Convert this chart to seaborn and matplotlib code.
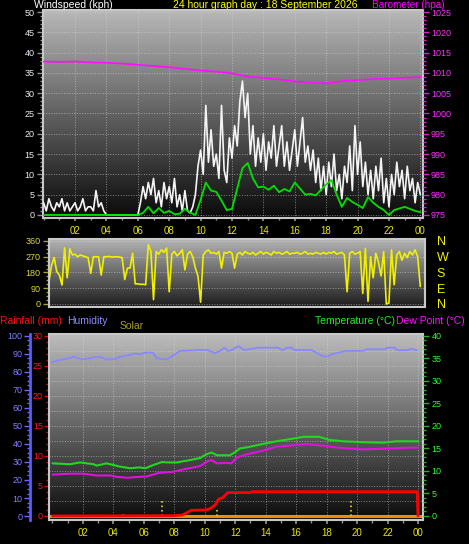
import numpy as np
import pandas as pd
import seaborn as sns
import matplotlib.pyplot as plt
from matplotlib.colors import LinearSegmentedColormap
from matplotlib.ticker import MultipleLocator

W, H = 469, 544

# wind gust (kph), one reading every 10 minutes from 00:00 to 24:00
gust_kph = [
    3, 1, 4, 2, 1, 3,
    2, 4, 1, 3, 1, 2,
    3, 1, 2, 4, 1, 2,
    2, 1, 6, 2, 3, 1,
    0, 0, 0, 0, 0, 0,
    0, 0, 0, 0, 0, 0,
    0, 3, 7, 4, 8, 5,
    9, 3, 6, 2, 8, 4,
    7, 3, 9, 2, 5, 1,
    6, 1, 0.5, 2, 5, 12,
    16, 10, 27, 13, 21, 12,
    15, 9, 27, 11, 8, 19,
    14, 22, 17, 28, 33, 24,
    30, 15, 22, 12, 19, 13,
    20, 11, 18, 14, 22, 12,
    17, 22, 12, 18, 11, 16,
    21, 12, 18, 24, 13, 17,
    11, 16, 8, 14, 6, 12,
    5, 13, 7, 15, 6, 10,
    4, 12, 8, 17, 6, 22,
    10, 18, 7, 13, 5, 11,
    4, 12, 6, 14, 3, 9,
    2, 10, 5, 13, 7, 11,
    4, 12, 6, 9, 3, 8,
    5]

# average wind (kph), every 20 minutes
avg_kph = [
    0, 0, 0, 0, 0, 0, 0, 0, 0, 0, 0, 0, 0, 0, 0, 0, 0, 0,
    0, 0.5, 2.0,
    0.4, 1.7, 0.5,
    1.0, 0.2, 0.3,
    1.5, 0.6, 0.0,
    3.7, 8.0, 6.0,
    5.7, 3.5, 1.2,
    1.5, 6.5, 11.5,
    12.8, 9.0, 6.8,
    7.0, 6.2, 7.2,
    5.6, 6.4, 5.8,
    8.0, 6.5, 5.0,
    5.2, 4.8, 6.2,
    7.5, 8.6, 5.0,
    2.0, 4.2, 3.2,
    2.5, 1.7, 4.4,
    3.0, 2.0, 1.2,
    0.0, 1.2, 1.6,
    2.0, 1.5, 1.0,
    0.7]

# barometer (hPa), hourly
baro_hpa = [1012.8, 1012.7, 1012.8, 1012.6, 1012.5, 1012.3, 1012.0, 1011.7,
            1011.4, 1011.0, 1010.6, 1010.3, 1009.9, 1009.1, 1008.8, 1008.4,
            1007.9, 1007.6, 1007.4, 1008.0, 1008.2, 1008.5, 1008.6, 1008.8,
            1009.0]

# wind direction (degrees), every 10 minutes
dir_deg = [
    200, 210, 130, 220, 265, 185,
    166, 108, 320, 150, 315, 280,
    285, 270, 280, 275, 270, 265,
    175, 270, 270, 270, 165, 270,
    270, 272, 268, 270, 270, 268,
    265, 140, 205, 205, 290, 115,
    115, 112, 113, 110, 340, 300,
    25, 300, 285, 310, 295, 320,
    70, 285, 300, 275, 290, 310,
    195, 285, 300, 270, 205, 160,
    10, 280, 300, 310, 290, 295,
    285, 300, 205, 295, 290, 300,
    290, 205, 285, 295, 280, 300,
    290, 285, 295, 280, 290, 300,
    285, 295, 290, 280, 300, 290,
    295, 285, 290, 300, 285, 290,
    290, 295, 285, 290, 300, 285,
    290, 285, 295, 290, 285, 295,
    285, 295, 290, 300, 285, 290,
    295, 280, 70, 290, 300, 285,
    290, 300, 60, 318, 15, 270,
    150, 290, 240, 160, 300, 0,
    5, 310, 110, 280, 300, 250,
    290, 265, 300, 280, 310, 270,
    100]

hum_hours = [0, 0.38, 1.04, 1.37, 1.7, 2.0, 2.8, 3.2, 3.55, 4.0, 4.4, 5.0, 5.4,
             5.75, 6.07, 6.6, 6.85, 7.5, 7.8, 8.37, 9.57, 10.2, 10.67, 11.0,
             11.3, 11.5, 11.8, 12.2, 12.6, 13.5, 14.8, 15.1, 15.4, 15.7, 15.9,
             17.0, 17.4, 17.7, 18.0, 18.4, 18.8, 19.2, 20.4, 20.6, 21.8, 22.0,
             22.5, 22.6, 23.4, 23.5, 23.9]
hum_pct = [85.4, 86.5, 87.6, 88.5, 87.6, 87.0, 88.2, 88.2, 87.0, 87.0, 88.3,
           89.4, 90.2, 89.8, 90.7, 90.7, 87.6, 87.0, 88.5, 91.7, 92.2, 92.2,
           90.4, 91.7, 93.5, 91.7, 92.2, 94.4, 92.2, 93.5, 93.5, 92.2, 93.5,
           93.5, 92.2, 92.2, 90.4, 88.9, 88.5, 90.0, 90.7, 91.7, 91.7, 92.6,
           92.6, 93.5, 93.5, 92.2, 92.2, 92.8, 92.2]

temp_hours = [0, 1.15, 1.8, 2.7, 2.9, 3.55, 4.4, 5.1, 5.7, 6.1, 6.6, 7.2, 7.5,
              8.15, 9.0, 9.7, 10.1, 10.45, 10.8, 11.2, 11.65, 12.0, 12.3, 13.0,
              13.8, 14.7, 15.8, 16.5, 17.5, 18.2, 19.1, 20.4, 21.7, 22.6, 24.0]
temp_c = [11.7, 11.5, 11.9, 11.5, 11.2, 11.7, 11.0, 10.6, 10.8, 10.6, 11.3,
          12.0, 11.9, 11.9, 12.4, 12.9, 13.7, 14.1, 13.5, 13.5, 13.5, 14.2,
          15.0, 15.4, 16.0, 16.6, 17.2, 17.6, 17.6, 16.9, 16.6, 16.4, 16.3,
          16.6, 16.6]

dew_hours = [0, 1.15, 2.0, 2.9, 3.8, 4.2, 4.9, 5.7, 6.2, 7.0, 7.9, 8.8, 9.7,
             10.2, 10.45, 10.8, 11.4, 11.75, 12.1, 12.75, 13.8, 14.7, 15.8,
             16.7, 17.8, 18.7, 19.5, 20.4, 22.2, 23.5, 24.0]
dew_c = [9.2, 9.4, 9.4, 9.0, 9.0, 8.7, 8.5, 8.7, 8.8, 9.6, 9.8, 10.5, 11.1,
         12.2, 12.4, 11.7, 11.8, 11.7, 13.0, 13.7, 14.5, 15.4, 15.7, 16.0,
         15.6, 15.2, 15.0, 14.8, 15.0, 15.2, 15.2]

rain_hours = [0, 7.9, 8.5, 8.8, 9.1, 10.1, 10.4, 10.7, 10.9, 11.2, 11.5, 13.0,
              13.1, 23.95, 24.0]
rain_mm = [0, 0.05, 0.15, 0.5, 0.95, 1.0, 1.3, 1.9, 2.8, 3.1, 3.9, 3.9, 4.05,
           4.05, 0]

solar_hours = [4.6, 7.2, 10.8, 19.6]
solar_vals = [0.6, 2.6, 1.2, 2.6]

time_labels = ['02', '04', '06', '08', '10', '12', '14', '16', '18', '20', '22', '00']
time_ticks = list(range(2, 25, 2))

sns.set_theme(style="dark", rc={"figure.facecolor": "black", "axes.facecolor": "black",
                                "axes.grid": False})
plt.rcParams['font.family'] = ['Liberation Sans', 'DejaVu Sans']

fig = plt.figure(figsize=(W / 100, H / 100), dpi=100)
fig.patch.set_facecolor('black')


def panel(left, top, right, bottom):
    return fig.add_axes([left / W, 1 - bottom / H, (right - left) / W, (bottom - top) / H])


def backdrop(ax, top_col, bottom_col):
    cmap = LinearSegmentedColormap.from_list('bg', [bottom_col, top_col])
    ax.imshow(np.linspace(1, 0, 256)[:, None], aspect='auto', cmap=cmap,
              extent=[0, 1, 0, 1], transform=ax.transAxes, zorder=0)
    for s in ax.spines.values():
        s.set_color('#c8c8c8')
        s.set_linewidth(1.5)
    ax.set_axisbelow(True)


grid_kw = dict(color='#d8d8d8', linestyle=':', linewidth=0.7, alpha=0.55)

# ---------------- wind / barometer ----------------
ax1 = panel(42.7, 10, 422.7, 218)
backdrop(ax1, '#b8b8b8', '#0a0a0a')
wind = pd.DataFrame({'hour': np.arange(len(gust_kph)) / 6, 'gust': gust_kph})
avg = pd.DataFrame({'hour': np.arange(len(avg_kph)) / 3, 'avg': avg_kph})
sns.lineplot(data=wind, x='hour', y='gust', ax=ax1, color='#f4f4f4', lw=1.2, zorder=3)
sns.lineplot(data=avg, x='hour', y='avg', ax=ax1, color='#00e000', lw=1.3, zorder=4)
ax1.set_xlim(-0.06, 24.15)
ax1.set_ylim(-0.75, 50.5)
ax1.yaxis.set_major_locator(MultipleLocator(5))
ax1.yaxis.set_minor_locator(MultipleLocator(1))
ax1.set_xticks(time_ticks)
ax1.set_xticklabels(time_labels)
ax1.xaxis.set_minor_locator(MultipleLocator(1))
ax1.tick_params(axis='y', which='major', length=4, width=1, color='#909090',
                labelcolor='#ececf4', labelsize=6.5, pad=2, left=True)
ax1.tick_params(axis='y', which='minor', length=2.5, width=1, color='#909090', left=True)
ax1.tick_params(axis='x', which='major', length=2.5, color='#909090',
                labelcolor='#e8e800', labelsize=7, pad=3, bottom=True)
ax1.tick_params(axis='x', which='minor', length=1.5, color='#909090', bottom=True)
ax1.grid(True, which='major', **grid_kw)
ax1.set_xlabel('')
ax1.set_ylabel('')

ax1b = ax1.twinx()
baro = pd.DataFrame({'hour': np.arange(len(baro_hpa)), 'hpa': baro_hpa})
sns.lineplot(data=baro, x='hour', y='hpa', ax=ax1b, color='#ff10ff', lw=1.3)
ax1b.set_ylim(975 - 0.75, 1025.5)
ax1b.yaxis.set_major_locator(MultipleLocator(5))
ax1b.yaxis.set_minor_locator(MultipleLocator(1))
ax1b.tick_params(axis='y', which='major', length=4, width=1, color='#d020d0',
                 labelcolor='#ff30ff', labelsize=6.5, pad=2, right=True)
ax1b.tick_params(axis='y', which='minor', length=2, width=1, color='#d020d0', right=True)
ax1b.set_ylabel('')
ax1b.grid(False)
for s in ax1b.spines.values():
    s.set_visible(False)

# ---------------- wind direction ----------------
ax2 = panel(49, 239, 425, 306.5)
backdrop(ax2, '#b4b4b4', '#1c1c1c')
direc = pd.DataFrame({'hour': np.arange(len(dir_deg)) / 6, 'deg': dir_deg})
sns.lineplot(data=direc, x='hour', y='deg', ax=ax2, color='#f0f000', lw=1.2, zorder=3)
ax2.set_xlim(0.34, 24.3)
ax2.set_ylim(-14.3, 371.4)
ax2.set_yticks([0, 90, 180, 270, 360])
ax2.yaxis.set_minor_locator(MultipleLocator(22.5))
ax2.tick_params(axis='y', which='major', length=4, width=1, color='#a0a030',
                labelcolor='#d8d840', labelsize=6.5, pad=2, left=True)
ax2.tick_params(axis='y', which='minor', length=2, width=1, color='#a0a030', left=True)
ax2.tick_params(axis='x', bottom=False, labelbottom=False)
ax2.yaxis.grid(True, **grid_kw)
ax2.set_xlabel('')
ax2.set_ylabel('')

ax2r = ax2.twinx()
ax2r.set_ylim(ax2.get_ylim())
ax2r.set_yticks([360, 270, 180, 90, 0])
ax2r.set_yticklabels(['N', 'W', 'S', 'E', 'N'])
ax2r.tick_params(axis='y', length=0, pad=8.5, labelsize=9, labelcolor='#f0f000')
ax2r.grid(False)
for s in ax2r.spines.values():
    s.set_visible(False)

# ---------------- rain / humidity / temperature ----------------
ax3 = panel(49.3, 334, 423, 520)
backdrop(ax3, '#bcbcbc', '#0c0c0c')
ax3.set_xlim(-0.21, 24.33)
ax3.set_ylim(-0.667, 30.33)
for v in np.arange(2.5, 30, 2.5):
    ax3.axhline(v, **grid_kw, zorder=0.5)
ax3.xaxis.grid(True, **grid_kw)
ax3.axhline(0, color='#e89000', lw=2.2, zorder=2)
ax3.vlines(solar_hours, 0, solar_vals, colors='#d8d820', linestyles=':', lw=1.2, zorder=2)
rain = pd.DataFrame({'hour': rain_hours, 'mm': rain_mm})
sns.lineplot(data=rain, x='hour', y='mm', ax=ax3, color='#ff0000', lw=2, zorder=5)
ax3.yaxis.set_major_locator(MultipleLocator(5))
ax3.yaxis.set_minor_locator(MultipleLocator(1))
ax3.tick_params(axis='y', which='major', length=3.5, width=1, color='#e00000',
                labelcolor='#ff1a1a', labelsize=6.5, pad=1, left=True)
ax3.tick_params(axis='y', which='minor', length=2, width=1, color='#e00000', left=True)
ax3.set_xticks(time_ticks)
ax3.set_xticklabels(time_labels)
ax3.xaxis.set_minor_locator(MultipleLocator(1))
ax3.tick_params(axis='x', which='major', length=3, color='#909090',
                labelcolor='#e8e800', labelsize=7, pad=3, bottom=True)
ax3.tick_params(axis='x', which='minor', length=2, color='#909090', bottom=True)
ax3.set_xlabel('')
ax3.set_ylabel('')

axh = ax3.twinx()
axh.yaxis.set_label_position('left')
axh.yaxis.set_ticks_position('left')
axh.spines['left'].set_position(('outward', 13.9))
axh.spines['left'].set_color('#5a5aff')
axh.spines['left'].set_linewidth(2)
for side in ['right', 'top', 'bottom']:
    axh.spines[side].set_visible(False)
hum = pd.DataFrame({'hour': hum_hours, 'pct': hum_pct})
sns.lineplot(data=hum, x='hour', y='pct', ax=axh, color='#8888ff', lw=1.3)
axh.set_ylim(-2.22, 101.1)
axh.yaxis.set_major_locator(MultipleLocator(10))
axh.yaxis.set_minor_locator(MultipleLocator(2.5))
axh.tick_params(axis='y', which='major', length=4, width=1, color='#6a6aff',
                labelcolor='#8080ff', labelsize=6.5, pad=1.5)
axh.tick_params(axis='y', which='minor', length=2, width=1, color='#6a6aff')
axh.set_ylabel('')
axh.grid(False)

axt = ax3.twinx()
for s in axt.spines.values():
    s.set_visible(False)
temp = pd.DataFrame({'hour': temp_hours, 'c': temp_c})
dew = pd.DataFrame({'hour': dew_hours, 'c': dew_c})
sns.lineplot(data=temp, x='hour', y='c', ax=axt, color='#20d820', lw=1.5)
sns.lineplot(data=dew, x='hour', y='c', ax=axt, color='#e010e0', lw=1.5)
axt.set_ylim(-0.89, 40.44)
axt.yaxis.set_major_locator(MultipleLocator(5))
axt.yaxis.set_minor_locator(MultipleLocator(1))
axt.tick_params(axis='y', which='major', length=4, width=1, color='#20b020',
                labelcolor='#30ff30', labelsize=6.5, pad=2, right=True)
axt.tick_params(axis='y', which='minor', length=2, width=1, color='#20b020', right=True)
axt.set_ylabel('')
axt.grid(False)
axt.set_xlim(ax3.get_xlim())
axh.set_xlim(ax3.get_xlim())


def label(x, y, s, color, size=7.5):
    fig.text(x / W, 1 - y / H, s, color=color, fontsize=size, ha='left', va='center')


label(34, 5, 'Windspeed (kph)', '#ffffff')
label(173, 5, '24 hour graph day : 18 September 2026', '#ffff00')
label(372, 4.5, 'Barometer (hpa)', '#ff00ff', 7.2)
label(0, 321, 'Rainfall (mm)', '#ff1010')
label(67, 321, 'Humidity', '#8c8cff')
label(120, 326, 'Solar', '#a8a020')
label(315, 321, 'Temperature (°C)', '#20f020')
label(396, 321, 'Dew Point (°C)', '#ff10ff')

plt.savefig('out.png', dpi=100, facecolor='black')
